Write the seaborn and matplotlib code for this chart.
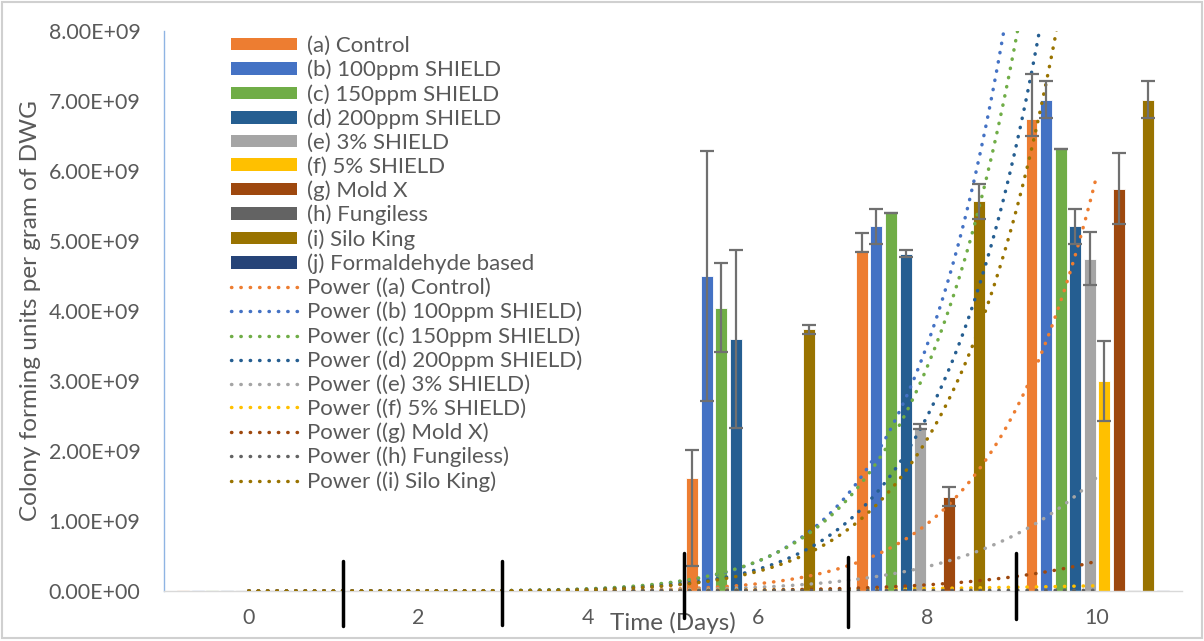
import numpy as np
import pandas as pd
import matplotlib
matplotlib.use("Agg")
import matplotlib.pyplot as plt
import seaborn as sns
from matplotlib.patches import Patch, Rectangle
from matplotlib.lines import Line2D

# ---------------- data ----------------
days = ["0", "2", "4", "6", "8", "10"]
series_names = ["(a) Control", "(b) 100ppm SHIELD", "(c) 150ppm SHIELD",
                "(d) 200ppm SHIELD", "(e) 3% SHIELD", "(f) 5% SHIELD",
                "(g) Mold X", "(h) Fungiless", "(i) Silo King",
                "(j) Formaldehyde based"]
colors = ["#ED7D31", "#4472C4", "#70AD47", "#255E91", "#A5A5A5",
          "#FFC000", "#9E480E", "#636363", "#997300", "#264478"]

T = 2.0e7  # tiny counts shown as thin dashes on the baseline
control      = [T, T, T, 1.62e9, 4.87e9, 6.74e9]
shield100    = [T, T, T, 4.50e9, 5.21e9, 7.02e9]
shield150    = [T, T, T, 4.05e9, 5.40e9, 6.31e9]
shield200    = [T, T, T, 3.60e9, 4.82e9, 5.21e9]
shield3pct   = [T, T, T, T, 2.35e9, 4.75e9]
shield5pct   = [T, T, T, T, T, 3.00e9]
moldx        = [T, T, T, T, 1.35e9, 5.75e9]
fungiless    = [T, T, T, T, T, T]
siloking     = [T, T, T, 3.74e9, 5.57e9, 7.02e9]
formaldehyde = [T, T, T, T, T, T]

N = np.nan
# error bars: (lower, upper)
err_lo_control   = [N, N, N, 1.26e9, 0.03e9, 0.24e9]
err_hi_control   = [N, N, N, 0.40e9, 0.25e9, 0.65e9]
err_shield100    = [N, N, N, 1.78e9, 0.25e9, 0.26e9]
err_shield150    = [N, N, N, 0.64e9, 0.0, 0.0]
err_shield200    = [N, N, N, 1.27e9, 0.05e9, 0.25e9]
err_shield3pct   = [N, N, N, N, 0.03e9, 0.38e9]
err_shield5pct   = [N, N, N, N, N, 0.57e9]
err_moldx        = [N, N, N, N, 0.13e9, 0.50e9]
err_fungiless    = [N, N, N, N, N, N]
err_siloking     = [N, N, N, 0.065e9, 0.25e9, 0.26e9]
err_formaldehyde = [N, N, N, N, N, N]

# Excel power trendlines y = a * x^b (x = category number 1..6)
trend_a = [98.6, 808.0, 1517.0, 707.0, 433.5, 5.79e4, 79.3, 1.67e6, 808.0]
trend_b = [10.0, 9.5, 9.05, 9.37, 8.45, 4.0, 8.65, 1.0, 9.2]

y_ticks = [0, 1e9, 2e9, 3e9, 4e9, 5e9, 6e9, 7e9, 8e9]

# ---------------- build ----------------
values = [control, shield100, shield150, shield200, shield3pct, shield5pct,
          moldx, fungiless, siloking, formaldehyde]
err_lo = [err_lo_control, err_shield100, err_shield150, err_shield200,
          err_shield3pct, err_shield5pct, err_moldx, err_fungiless,
          err_siloking, err_formaldehyde]
err_hi = [err_hi_control, err_shield100, err_shield150, err_shield200,
          err_shield3pct, err_shield5pct, err_moldx, err_fungiless,
          err_siloking, err_formaldehyde]

rows = []
for name, vals in zip(series_names, values):
    for d, v in zip(days, vals):
        rows.append({"day": d, "value": v, "series": name})
df = pd.DataFrame(rows)

sns.set_theme(style="white")
plt.rcParams["font.family"] = ["Lato", "DejaVu Sans"]
TXT = "#595959"

W, H = 1204, 641
fig = plt.figure(figsize=(W / 100, H / 100), dpi=100)
fig.patch.set_facecolor("white")
ax = fig.add_axes([164 / W, 50 / H, 1018 / W, 560 / H])

sns.barplot(data=df, x="day", y="value", hue="series", order=days,
            hue_order=series_names, palette=colors, width=0.86, gap=0.18,
            errorbar=None, edgecolor="white", linewidth=0.6, saturation=1,
            legend=False, ax=ax, zorder=2)

# error bars on the seaborn-placed bars
bar_containers = list(ax.containers)
for i, cont in enumerate(bar_containers):
    for j, p in enumerate(cont.patches):
        lo, hi = err_lo[i][j], err_hi[i][j]
        if np.isnan(lo):
            continue
        xc = p.get_x() + p.get_width() / 2
        yv = p.get_height()
        ax.errorbar([xc], [yv], yerr=[[lo], [hi]], fmt="none",
                    ecolor="#707070", elinewidth=1.6, capsize=5,
                    capthick=1.6, zorder=4)

# power trendlines
xs = np.linspace(0, len(days) - 1, 300)
dot_style = dict(linestyle=(0, (0.1, 2.6)), linewidth=2.5,
                 dash_capstyle="round")
for k in range(len(trend_a)):
    ys = trend_a[k] * (xs + 1) ** trend_b[k]
    ax.plot(xs, ys, color=colors[k], zorder=3, **dot_style)

ax.set_xlim(-0.5, len(days) - 0.5)
ax.set_ylim(0, 8e9)
ax.set_yticks(y_ticks)
ax.set_yticklabels(["{:.2E}".format(v) for v in y_ticks])
ax.tick_params(axis="y", length=0, pad=17, labelsize=15.4, labelcolor=TXT)
ax.tick_params(axis="x", length=0, pad=12, labelsize=15.4, labelcolor=TXT)

for s in ["top", "right"]:
    ax.spines[s].set_visible(False)
ax.spines["left"].set_color("#8FB4E3")
ax.spines["left"].set_linewidth(1.0)
ax.spines["bottom"].set_color("#D9D9D9")
ax.spines["bottom"].set_linewidth(1.0)

ax.set_ylabel("Colony forming units per gram of DWG", fontsize=17.5, color=TXT)
ax.yaxis.set_label_coords((31 - 164) / 1018, 0.5)
ax.yaxis.label.set_va("center")
ax.set_xlabel("Time (Days)", fontsize=17.5, color=TXT)
ax.xaxis.set_label_coords((673 - 164) / 1018, (591 - 623) / 560)
ax.xaxis.label.set_va("center")

# legend
handles = [Patch(facecolor=c, edgecolor="none") for c in colors]
labels = list(series_names)
for k in range(len(trend_a)):
    handles.append(Line2D([0], [0], color=colors[k], **dot_style))
    labels.append("Power (" + series_names[k] + ")")
leg = fig.legend(handles, labels, loc="upper left",
                 bbox_to_anchor=(231 / W, 1 - 36 / H), frameon=False,
                 fontsize=16, handlelength=2.97, handleheight=0.5,
                 handletextpad=0.45, labelspacing=0.17, borderpad=0,
                 borderaxespad=0)
for t in leg.get_texts():
    t.set_color(TXT)

# hand-drawn separator strokes below the axis (figure pixels)
sep_x = [343, 502, 684, 848, 1016]
sep_y0 = [561, 561, 553, 557, 553]
sep_y1 = [626, 625, 618, 627, 619]
for x, y0, y1 in zip(sep_x, sep_y0, sep_y1):
    fig.add_artist(Line2D([x / W, x / W], [1 - y0 / H, 1 - y1 / H],
                          transform=fig.transFigure, color="black",
                          linewidth=2.5, zorder=10))

# chart-area border
fig.add_artist(Rectangle((1.5 / W, 3 / H), 1 - 4 / W, 1 - 4.5 / H,
                         transform=fig.transFigure, fill=False,
                         edgecolor="#D0D0D0", linewidth=1.5))

fig.savefig("out.png", dpi=100)
